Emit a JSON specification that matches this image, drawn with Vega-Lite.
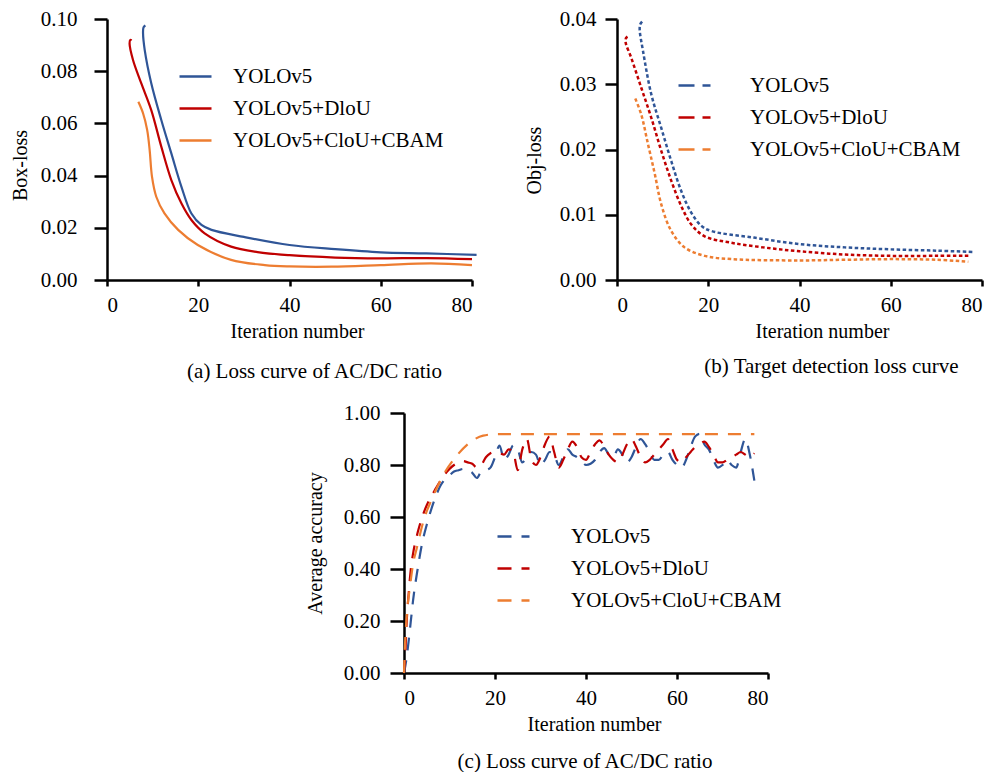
{
  "$schema": "https://vega.github.io/schema/vega-lite/v6.json",
  "padding": {"left": 10, "top": 8, "right": 0, "bottom": 0},
  "background": "white",
  "config": {
    "view": {"stroke": null},
    "font": "Liberation Serif",
    "axis": {
      "grid": false, "domainColor": "black", "domainWidth": 2.5, "tickColor": "black", "tickWidth": 2.5,
      "labelFont": "Liberation Serif", "labelFontSize": 21, "labelColor": "black",
      "titleFont": "Liberation Serif", "titleFontSize": 20, "titleFontWeight": "normal", "titleColor": "black"
    },
    "axisX": {"tickSize": 6, "labelPadding": 8, "titlePadding": 6, "labelAngle": 0},
    "legend": {
      "labelFont": "Liberation Serif", "labelFontSize": 21, "labelColor": "black", "title": null, "labelLimit": 400,
      "symbolType": "stroke", "symbolSize": 1024, "symbolStrokeWidth": 2.5, "rowPadding": 4, "orient": "none"
    },
    "title": {"font": "Liberation Serif", "fontSize": 21, "fontWeight": "normal", "color": "black", "orient": "bottom", "anchor": "middle"}
  },
  "datasets": {
    "box": [
      {"m": "YOLOv5", "k": 1, "x": 8.4, "y": 0.0976}, {"m": "YOLOv5", "k": 2, "x": 8.0, "y": 0.0968}, {"m": "YOLOv5", "k": 3, "x": 7.9, "y": 0.0945},
      {"m": "YOLOv5", "k": 4, "x": 8.27, "y": 0.0881}, {"m": "YOLOv5", "k": 5, "x": 9.7, "y": 0.0754}, {"m": "YOLOv5", "k": 6, "x": 11.9, "y": 0.0613},
      {"m": "YOLOv5", "k": 7, "x": 14.1, "y": 0.0485}, {"m": "YOLOv5", "k": 8, "x": 16.3, "y": 0.0358}, {"m": "YOLOv5", "k": 9, "x": 18.5, "y": 0.0255},
      {"m": "YOLOv5", "k": 10, "x": 20.7, "y": 0.0211}, {"m": "YOLOv5", "k": 11, "x": 22.9, "y": 0.0192}, {"m": "YOLOv5", "k": 12, "x": 30, "y": 0.0165},
      {"m": "YOLOv5", "k": 13, "x": 40, "y": 0.0134}, {"m": "YOLOv5", "k": 14, "x": 50, "y": 0.0118}, {"m": "YOLOv5", "k": 15, "x": 60, "y": 0.0106},
      {"m": "YOLOv5", "k": 16, "x": 70, "y": 0.0102}, {"m": "YOLOv5", "k": 17, "x": 81, "y": 0.0096},
      {"m": "YOLOv5+DloU", "k": 1, "x": 5.4, "y": 0.0918}, {"m": "YOLOv5+DloU", "k": 2, "x": 5.1, "y": 0.092}, {"m": "YOLOv5+DloU", "k": 3, "x": 4.95, "y": 0.0905},
      {"m": "YOLOv5+DloU", "k": 4, "x": 5.7, "y": 0.0843}, {"m": "YOLOv5+DloU", "k": 5, "x": 7.5, "y": 0.0754}, {"m": "YOLOv5+DloU", "k": 6, "x": 9.7, "y": 0.0651},
      {"m": "YOLOv5+DloU", "k": 7, "x": 11.9, "y": 0.0511}, {"m": "YOLOv5+DloU", "k": 8, "x": 14.1, "y": 0.0383}, {"m": "YOLOv5+DloU", "k": 9, "x": 16.3, "y": 0.0294},
      {"m": "YOLOv5+DloU", "k": 10, "x": 18.5, "y": 0.023}, {"m": "YOLOv5+DloU", "k": 11, "x": 21.4, "y": 0.0179}, {"m": "YOLOv5+DloU", "k": 12, "x": 27.2, "y": 0.0128},
      {"m": "YOLOv5+DloU", "k": 13, "x": 33, "y": 0.0107}, {"m": "YOLOv5+DloU", "k": 14, "x": 40, "y": 0.0095}, {"m": "YOLOv5+DloU", "k": 15, "x": 50, "y": 0.0086},
      {"m": "YOLOv5+DloU", "k": 16, "x": 60, "y": 0.0083}, {"m": "YOLOv5+DloU", "k": 17, "x": 70, "y": 0.0084}, {"m": "YOLOv5+DloU", "k": 18, "x": 80, "y": 0.008},
      {"m": "YOLOv5+CloU+CBAM", "k": 1, "x": 6.87, "y": 0.0683}, {"m": "YOLOv5+CloU+CBAM", "k": 2, "x": 7.9, "y": 0.0639}, {"m": "YOLOv5+CloU+CBAM", "k": 3, "x": 8.8, "y": 0.0575},
      {"m": "YOLOv5+CloU+CBAM", "k": 4, "x": 9.35, "y": 0.0498}, {"m": "YOLOv5+CloU+CBAM", "k": 5, "x": 9.86, "y": 0.0396}, {"m": "YOLOv5+CloU+CBAM", "k": 6, "x": 10.8, "y": 0.0319},
      {"m": "YOLOv5+CloU+CBAM", "k": 7, "x": 12.6, "y": 0.0255}, {"m": "YOLOv5+CloU+CBAM", "k": 8, "x": 15.6, "y": 0.0192}, {"m": "YOLOv5+CloU+CBAM", "k": 9, "x": 19.9, "y": 0.0134},
      {"m": "YOLOv5+CloU+CBAM", "k": 10, "x": 27.2, "y": 0.0077}, {"m": "YOLOv5+CloU+CBAM", "k": 11, "x": 34.6, "y": 0.0057}, {"m": "YOLOv5+CloU+CBAM", "k": 12, "x": 40, "y": 0.0052},
      {"m": "YOLOv5+CloU+CBAM", "k": 13, "x": 49.2, "y": 0.0051}, {"m": "YOLOv5+CloU+CBAM", "k": 14, "x": 60, "y": 0.0057}, {"m": "YOLOv5+CloU+CBAM", "k": 15, "x": 71.1, "y": 0.0064},
      {"m": "YOLOv5+CloU+CBAM", "k": 16, "x": 80, "y": 0.0057}
    ],
    "obj": [
      {"m": "YOLOv5", "k": 1, "x": 5.5, "y": 0.0396}, {"m": "YOLOv5", "k": 2, "x": 5.1, "y": 0.0392}, {"m": "YOLOv5", "k": 3, "x": 4.97, "y": 0.0384},
      {"m": "YOLOv5", "k": 4, "x": 5.7, "y": 0.0351}, {"m": "YOLOv5", "k": 5, "x": 7.5, "y": 0.0285}, {"m": "YOLOv5", "k": 6, "x": 9.7, "y": 0.0233},
      {"m": "YOLOv5", "k": 7, "x": 11.9, "y": 0.0182}, {"m": "YOLOv5", "k": 8, "x": 14.1, "y": 0.0136}, {"m": "YOLOv5", "k": 9, "x": 16.3, "y": 0.0103},
      {"m": "YOLOv5", "k": 10, "x": 18.5, "y": 0.0083}, {"m": "YOLOv5", "k": 11, "x": 20.7, "y": 0.0075}, {"m": "YOLOv5", "k": 12, "x": 30, "y": 0.0065},
      {"m": "YOLOv5", "k": 13, "x": 40, "y": 0.0055}, {"m": "YOLOv5", "k": 14, "x": 50, "y": 0.005}, {"m": "YOLOv5", "k": 15, "x": 60, "y": 0.0047},
      {"m": "YOLOv5", "k": 16, "x": 70, "y": 0.0045}, {"m": "YOLOv5", "k": 17, "x": 78, "y": 0.0043},
      {"m": "YOLOv5+DloU", "k": 1, "x": 2.3, "y": 0.0373}, {"m": "YOLOv5+DloU", "k": 2, "x": 2.0, "y": 0.0371}, {"m": "YOLOv5+DloU", "k": 3, "x": 1.9, "y": 0.0364},
      {"m": "YOLOv5+DloU", "k": 4, "x": 3.1, "y": 0.0341}, {"m": "YOLOv5+DloU", "k": 5, "x": 5.3, "y": 0.0295}, {"m": "YOLOv5+DloU", "k": 6, "x": 7.5, "y": 0.0249},
      {"m": "YOLOv5+DloU", "k": 7, "x": 9.7, "y": 0.0198}, {"m": "YOLOv5+DloU", "k": 8, "x": 11.9, "y": 0.0152}, {"m": "YOLOv5+DloU", "k": 9, "x": 14.1, "y": 0.0113},
      {"m": "YOLOv5+DloU", "k": 10, "x": 16.3, "y": 0.0085}, {"m": "YOLOv5+DloU", "k": 11, "x": 19.2, "y": 0.0067}, {"m": "YOLOv5+DloU", "k": 12, "x": 25.1, "y": 0.0057},
      {"m": "YOLOv5+DloU", "k": 13, "x": 32, "y": 0.005}, {"m": "YOLOv5+DloU", "k": 14, "x": 40, "y": 0.0044}, {"m": "YOLOv5+DloU", "k": 15, "x": 50, "y": 0.0039},
      {"m": "YOLOv5+DloU", "k": 16, "x": 60, "y": 0.0037}, {"m": "YOLOv5+DloU", "k": 17, "x": 70, "y": 0.0037}, {"m": "YOLOv5+DloU", "k": 18, "x": 77, "y": 0.0037},
      {"m": "YOLOv5+CloU+CBAM", "k": 1, "x": 4.0, "y": 0.0278}, {"m": "YOLOv5+CloU+CBAM", "k": 2, "x": 5.3, "y": 0.0254}, {"m": "YOLOv5+CloU+CBAM", "k": 3, "x": 6.8, "y": 0.0208},
      {"m": "YOLOv5+CloU+CBAM", "k": 4, "x": 8.3, "y": 0.0162}, {"m": "YOLOv5+CloU+CBAM", "k": 5, "x": 9.7, "y": 0.0116}, {"m": "YOLOv5+CloU+CBAM", "k": 6, "x": 11.9, "y": 0.0075},
      {"m": "YOLOv5+CloU+CBAM", "k": 7, "x": 14.8, "y": 0.005}, {"m": "YOLOv5+CloU+CBAM", "k": 8, "x": 19.2, "y": 0.0037}, {"m": "YOLOv5+CloU+CBAM", "k": 9, "x": 25.1, "y": 0.0032},
      {"m": "YOLOv5+CloU+CBAM", "k": 10, "x": 40, "y": 0.003}, {"m": "YOLOv5+CloU+CBAM", "k": 11, "x": 50, "y": 0.0031}, {"m": "YOLOv5+CloU+CBAM", "k": 12, "x": 60, "y": 0.0032},
      {"m": "YOLOv5+CloU+CBAM", "k": 13, "x": 70, "y": 0.0031}, {"m": "YOLOv5+CloU+CBAM", "k": 14, "x": 77, "y": 0.0028}
    ],
    "acc": [
      {"m": "YOLOv5", "x": 0, "y": 0.0}, {"m": "YOLOv5", "x": 0.5, "y": 0.05}, {"m": "YOLOv5", "x": 1, "y": 0.12}, {"m": "YOLOv5", "x": 1.5, "y": 0.2},
      {"m": "YOLOv5", "x": 2, "y": 0.28}, {"m": "YOLOv5", "x": 3, "y": 0.4}, {"m": "YOLOv5", "x": 4, "y": 0.5}, {"m": "YOLOv5", "x": 5, "y": 0.57},
      {"m": "YOLOv5", "x": 6, "y": 0.63}, {"m": "YOLOv5", "x": 7, "y": 0.68}, {"m": "YOLOv5", "x": 8, "y": 0.72}, {"m": "YOLOv5", "x": 9, "y": 0.745},
      {"m": "YOLOv5", "x": 10, "y": 0.76}, {"m": "YOLOv5", "x": 11, "y": 0.775}, {"m": "YOLOv5", "x": 12, "y": 0.78}, {"m": "YOLOv5", "x": 13, "y": 0.785},
      {"m": "YOLOv5", "x": 14, "y": 0.78}, {"m": "YOLOv5", "x": 15, "y": 0.77}, {"m": "YOLOv5", "x": 16, "y": 0.75}, {"m": "YOLOv5", "x": 17, "y": 0.775},
      {"m": "YOLOv5", "x": 18, "y": 0.78}, {"m": "YOLOv5", "x": 19, "y": 0.79}, {"m": "YOLOv5", "x": 20, "y": 0.83}, {"m": "YOLOv5", "x": 21, "y": 0.875},
      {"m": "YOLOv5", "x": 22, "y": 0.82}, {"m": "YOLOv5", "x": 23, "y": 0.84}, {"m": "YOLOv5", "x": 24, "y": 0.875}, {"m": "YOLOv5", "x": 25, "y": 0.86},
      {"m": "YOLOv5", "x": 26, "y": 0.81}, {"m": "YOLOv5", "x": 27, "y": 0.83}, {"m": "YOLOv5", "x": 28, "y": 0.85}, {"m": "YOLOv5", "x": 29, "y": 0.84},
      {"m": "YOLOv5", "x": 30, "y": 0.8}, {"m": "YOLOv5", "x": 31, "y": 0.82}, {"m": "YOLOv5", "x": 32, "y": 0.85}, {"m": "YOLOv5", "x": 33, "y": 0.84},
      {"m": "YOLOv5", "x": 34, "y": 0.8}, {"m": "YOLOv5", "x": 35, "y": 0.83}, {"m": "YOLOv5", "x": 36, "y": 0.86}, {"m": "YOLOv5", "x": 37, "y": 0.84},
      {"m": "YOLOv5", "x": 38, "y": 0.83}, {"m": "YOLOv5", "x": 39, "y": 0.815}, {"m": "YOLOv5", "x": 40, "y": 0.8}, {"m": "YOLOv5", "x": 41, "y": 0.805},
      {"m": "YOLOv5", "x": 42, "y": 0.82}, {"m": "YOLOv5", "x": 43, "y": 0.85}, {"m": "YOLOv5", "x": 44, "y": 0.865}, {"m": "YOLOv5", "x": 45, "y": 0.84},
      {"m": "YOLOv5", "x": 46, "y": 0.83}, {"m": "YOLOv5", "x": 47, "y": 0.86}, {"m": "YOLOv5", "x": 48, "y": 0.84}, {"m": "YOLOv5", "x": 49, "y": 0.81},
      {"m": "YOLOv5", "x": 50, "y": 0.83}, {"m": "YOLOv5", "x": 51, "y": 0.87}, {"m": "YOLOv5", "x": 52, "y": 0.9}, {"m": "YOLOv5", "x": 53, "y": 0.88},
      {"m": "YOLOv5", "x": 54, "y": 0.85}, {"m": "YOLOv5", "x": 55, "y": 0.82}, {"m": "YOLOv5", "x": 56, "y": 0.82}, {"m": "YOLOv5", "x": 57, "y": 0.84},
      {"m": "YOLOv5", "x": 58, "y": 0.85}, {"m": "YOLOv5", "x": 59, "y": 0.82}, {"m": "YOLOv5", "x": 60, "y": 0.8}, {"m": "YOLOv5", "x": 61, "y": 0.79},
      {"m": "YOLOv5", "x": 62, "y": 0.82}, {"m": "YOLOv5", "x": 63, "y": 0.87}, {"m": "YOLOv5", "x": 64, "y": 0.91}, {"m": "YOLOv5", "x": 65, "y": 0.92},
      {"m": "YOLOv5", "x": 66, "y": 0.88}, {"m": "YOLOv5", "x": 67, "y": 0.86}, {"m": "YOLOv5", "x": 68, "y": 0.82}, {"m": "YOLOv5", "x": 69, "y": 0.79},
      {"m": "YOLOv5", "x": 70, "y": 0.8}, {"m": "YOLOv5", "x": 71, "y": 0.82}, {"m": "YOLOv5", "x": 72, "y": 0.8}, {"m": "YOLOv5", "x": 73, "y": 0.79},
      {"m": "YOLOv5", "x": 74, "y": 0.85}, {"m": "YOLOv5", "x": 75, "y": 0.9}, {"m": "YOLOv5", "x": 76, "y": 0.84}, {"m": "YOLOv5", "x": 77, "y": 0.74},
      {"m": "YOLOv5+DloU", "x": 0, "y": 0.0}, {"m": "YOLOv5+DloU", "x": 0.3, "y": 0.08}, {"m": "YOLOv5+DloU", "x": 0.6, "y": 0.2}, {"m": "YOLOv5+DloU", "x": 1, "y": 0.3},
      {"m": "YOLOv5+DloU", "x": 1.5, "y": 0.4}, {"m": "YOLOv5+DloU", "x": 2, "y": 0.46}, {"m": "YOLOv5+DloU", "x": 3, "y": 0.54}, {"m": "YOLOv5+DloU", "x": 4, "y": 0.6},
      {"m": "YOLOv5+DloU", "x": 5, "y": 0.645}, {"m": "YOLOv5+DloU", "x": 6, "y": 0.68}, {"m": "YOLOv5+DloU", "x": 7, "y": 0.71}, {"m": "YOLOv5+DloU", "x": 8, "y": 0.74},
      {"m": "YOLOv5+DloU", "x": 9, "y": 0.765}, {"m": "YOLOv5+DloU", "x": 10, "y": 0.785}, {"m": "YOLOv5+DloU", "x": 11, "y": 0.8}, {"m": "YOLOv5+DloU", "x": 12, "y": 0.81},
      {"m": "YOLOv5+DloU", "x": 13, "y": 0.815}, {"m": "YOLOv5+DloU", "x": 14, "y": 0.81}, {"m": "YOLOv5+DloU", "x": 15, "y": 0.805}, {"m": "YOLOv5+DloU", "x": 16, "y": 0.79},
      {"m": "YOLOv5+DloU", "x": 17, "y": 0.8}, {"m": "YOLOv5+DloU", "x": 18, "y": 0.83}, {"m": "YOLOv5+DloU", "x": 19, "y": 0.845}, {"m": "YOLOv5+DloU", "x": 20, "y": 0.85},
      {"m": "YOLOv5+DloU", "x": 21, "y": 0.845}, {"m": "YOLOv5+DloU", "x": 22, "y": 0.84}, {"m": "YOLOv5+DloU", "x": 23, "y": 0.86}, {"m": "YOLOv5+DloU", "x": 24, "y": 0.85},
      {"m": "YOLOv5+DloU", "x": 25, "y": 0.78}, {"m": "YOLOv5+DloU", "x": 26, "y": 0.86}, {"m": "YOLOv5+DloU", "x": 27, "y": 0.9}, {"m": "YOLOv5+DloU", "x": 28, "y": 0.82},
      {"m": "YOLOv5+DloU", "x": 29, "y": 0.8}, {"m": "YOLOv5+DloU", "x": 30, "y": 0.83}, {"m": "YOLOv5+DloU", "x": 31, "y": 0.88}, {"m": "YOLOv5+DloU", "x": 32, "y": 0.91},
      {"m": "YOLOv5+DloU", "x": 33, "y": 0.85}, {"m": "YOLOv5+DloU", "x": 34, "y": 0.79}, {"m": "YOLOv5+DloU", "x": 35, "y": 0.82}, {"m": "YOLOv5+DloU", "x": 36, "y": 0.86},
      {"m": "YOLOv5+DloU", "x": 37, "y": 0.89}, {"m": "YOLOv5+DloU", "x": 38, "y": 0.87}, {"m": "YOLOv5+DloU", "x": 39, "y": 0.83}, {"m": "YOLOv5+DloU", "x": 40, "y": 0.82},
      {"m": "YOLOv5+DloU", "x": 41, "y": 0.85}, {"m": "YOLOv5+DloU", "x": 42, "y": 0.88}, {"m": "YOLOv5+DloU", "x": 43, "y": 0.895}, {"m": "YOLOv5+DloU", "x": 44, "y": 0.87},
      {"m": "YOLOv5+DloU", "x": 45, "y": 0.84}, {"m": "YOLOv5+DloU", "x": 46, "y": 0.82}, {"m": "YOLOv5+DloU", "x": 47, "y": 0.81}, {"m": "YOLOv5+DloU", "x": 48, "y": 0.84},
      {"m": "YOLOv5+DloU", "x": 49, "y": 0.88}, {"m": "YOLOv5+DloU", "x": 50, "y": 0.9}, {"m": "YOLOv5+DloU", "x": 51, "y": 0.87}, {"m": "YOLOv5+DloU", "x": 52, "y": 0.83},
      {"m": "YOLOv5+DloU", "x": 53, "y": 0.81}, {"m": "YOLOv5+DloU", "x": 54, "y": 0.82}, {"m": "YOLOv5+DloU", "x": 55, "y": 0.84}, {"m": "YOLOv5+DloU", "x": 56, "y": 0.86},
      {"m": "YOLOv5+DloU", "x": 57, "y": 0.88}, {"m": "YOLOv5+DloU", "x": 58, "y": 0.9}, {"m": "YOLOv5+DloU", "x": 59, "y": 0.86}, {"m": "YOLOv5+DloU", "x": 60, "y": 0.82},
      {"m": "YOLOv5+DloU", "x": 61, "y": 0.81}, {"m": "YOLOv5+DloU", "x": 62, "y": 0.83}, {"m": "YOLOv5+DloU", "x": 63, "y": 0.85}, {"m": "YOLOv5+DloU", "x": 64, "y": 0.87},
      {"m": "YOLOv5+DloU", "x": 65, "y": 0.88}, {"m": "YOLOv5+DloU", "x": 66, "y": 0.89}, {"m": "YOLOv5+DloU", "x": 67, "y": 0.87}, {"m": "YOLOv5+DloU", "x": 68, "y": 0.84},
      {"m": "YOLOv5+DloU", "x": 69, "y": 0.81}, {"m": "YOLOv5+DloU", "x": 70, "y": 0.81}, {"m": "YOLOv5+DloU", "x": 71, "y": 0.82}, {"m": "YOLOv5+DloU", "x": 72, "y": 0.83},
      {"m": "YOLOv5+DloU", "x": 73, "y": 0.84}, {"m": "YOLOv5+DloU", "x": 74, "y": 0.85}, {"m": "YOLOv5+DloU", "x": 75, "y": 0.84}, {"m": "YOLOv5+DloU", "x": 76, "y": 0.83},
      {"m": "YOLOv5+DloU", "x": 77, "y": 0.845},
      {"m": "YOLOv5+CloU+CBAM", "x": 0, "y": 0.0}, {"m": "YOLOv5+CloU+CBAM", "x": 0.2, "y": 0.1}, {"m": "YOLOv5+CloU+CBAM", "x": 0.6, "y": 0.22},
      {"m": "YOLOv5+CloU+CBAM", "x": 1.3, "y": 0.33}, {"m": "YOLOv5+CloU+CBAM", "x": 2, "y": 0.42}, {"m": "YOLOv5+CloU+CBAM", "x": 2.8, "y": 0.48},
      {"m": "YOLOv5+CloU+CBAM", "x": 4.2, "y": 0.58}, {"m": "YOLOv5+CloU+CBAM", "x": 6.4, "y": 0.68}, {"m": "YOLOv5+CloU+CBAM", "x": 8.6, "y": 0.76},
      {"m": "YOLOv5+CloU+CBAM", "x": 11.6, "y": 0.836}, {"m": "YOLOv5+CloU+CBAM", "x": 14.5, "y": 0.887}, {"m": "YOLOv5+CloU+CBAM", "x": 17.4, "y": 0.913},
      {"m": "YOLOv5+CloU+CBAM", "x": 20.4, "y": 0.919}, {"m": "YOLOv5+CloU+CBAM", "x": 30, "y": 0.919}, {"m": "YOLOv5+CloU+CBAM", "x": 50, "y": 0.919},
      {"m": "YOLOv5+CloU+CBAM", "x": 77, "y": 0.919}
    ]
  },
  "vconcat": [
    {
      "hconcat": [
        {
          "width": 365, "height": 261,
          "data": {"name": "box"},
          "title": {"text": "(a) Loss curve of AC/DC ratio", "dx": 25, "offset": 20},
          "mark": {"type": "line", "strokeWidth": 2.2, "interpolate": "catmull-rom"},
          "encoding": {
            "x": {"field": "x", "type": "quantitative", "scale": {"domain": [0, 80], "nice": false, "zero": false},
                  "axis": {"values": [0, 20, 40, 60, 80], "title": "Iteration number", "titleX": 190}},
            "y": {"field": "y", "type": "quantitative", "scale": {"domain": [0, 0.1], "nice": false},
                  "axis": {"values": [0, 0.02, 0.04, 0.06, 0.08, 0.1], "format": ".2f", "title": "Box-loss", "tickSize": 13, "labelPadding": 17, "titlePadding": 10, "titleY": 146}},
            "color": {"field": "m", "type": "nominal",
                      "scale": {"domain": ["YOLOv5", "YOLOv5+DloU", "YOLOv5+CloU+CBAM"], "range": ["#2F5597", "#C00000", "#ED7D31"]},
                      "legend": {"legendX": 71, "legendY": 40, "labelOffset": 20, "symbolDash": [1, 0],
                                 "labelExpr": "(datum.value == 'YOLOv5+DloU' ? '\u2005' : datum.value == 'YOLOv5+CloU+CBAM' ? '\u2002\u2005' : '') + datum.label"}},
            "order": {"field": "k", "type": "quantitative"}
          }
        },
        {
          "width": 365, "height": 261,
          "data": {"name": "obj"},
          "title": {"text": "(b) Target detection loss curve", "dx": 32, "offset": 15},
          "mark": {"type": "line", "strokeWidth": 2.5, "strokeDash": [3.5, 2.5], "interpolate": "catmull-rom"},
          "encoding": {
            "x": {"field": "x", "type": "quantitative", "scale": {"domain": [0, 80], "nice": false, "zero": false},
                  "axis": {"values": [0, 20, 40, 60, 80], "title": "Iteration number", "titleX": 205}},
            "y": {"field": "y", "type": "quantitative", "scale": {"domain": [0, 0.04], "nice": false},
                  "axis": {"values": [0, 0.01, 0.02, 0.03, 0.04], "format": ".2f", "title": "Obj-loss", "tickSize": 12, "labelPadding": 9, "titlePadding": 15, "titleY": 141}},
            "color": {"field": "m", "type": "nominal",
                      "scale": {"domain": ["YOLOv5", "YOLOv5+DloU", "YOLOv5+CloU+CBAM"], "range": ["#2F5597", "#C00000", "#ED7D31"]},
                      "legend": {"legendX": 60, "legendY": 49, "labelOffset": 38, "symbolDash": [16, 8],
                                 "labelExpr": "(datum.value == 'YOLOv5+DloU' ? '\u2002' : datum.value == 'YOLOv5+CloU+CBAM' ? '\u2002\u2002' : '') + datum.label"}},
            "order": {"field": "k", "type": "quantitative"}
          }
        }
      ],
      "spacing": 43,
      "resolve": {"scale": {"color": "independent"}, "legend": {"color": "independent"}}
    },
    {
      "hconcat": [
        {"width": 198, "height": 10, "data": {"values": []}, "mark": "point"},
        {
          "width": 364, "height": 260,
          "data": {"name": "acc"},
          "title": {"text": "(c) Loss curve of AC/DC ratio", "dx": -1, "offset": 17},
          "mark": {"type": "line", "strokeWidth": 2.2, "strokeDash": [13, 10], "interpolate": "monotone"},
          "encoding": {
            "x": {"field": "x", "type": "quantitative", "scale": {"domain": [0, 80], "nice": false, "zero": false},
                  "axis": {"values": [0, 20, 40, 60, 80], "title": "Iteration number", "titleX": 190}},
            "y": {"field": "y", "type": "quantitative", "scale": {"domain": [0, 1], "nice": false},
                  "axis": {"values": [0, 0.2, 0.4, 0.6, 0.8, 1], "format": ".2f", "title": "Average accuracy", "tickSize": 14, "labelPadding": 10, "titlePadding": 18}},
            "color": {"field": "m", "type": "nominal",
                      "scale": {"domain": ["YOLOv5", "YOLOv5+DloU", "YOLOv5+CloU+CBAM"], "range": ["#2F5597", "#C00000", "#ED7D31"]},
                      "legend": {"legendX": 92, "legendY": 106, "labelOffset": 40, "symbolDash": [14, 10],
                                 "labelExpr": "(datum.value == 'YOLOv5+DloU' ? '\u2002' : datum.value == 'YOLOv5+CloU+CBAM' ? '\u2002\u2002' : '') + datum.label"}}
          }
        }
      ],
      "spacing": 0,
      "resolve": {"scale": {"color": "independent"}, "legend": {"color": "independent"}}
    }
  ],
  "spacing": 20,
  "resolve": {"scale": {"color": "independent"}, "legend": {"color": "independent"}}
}
